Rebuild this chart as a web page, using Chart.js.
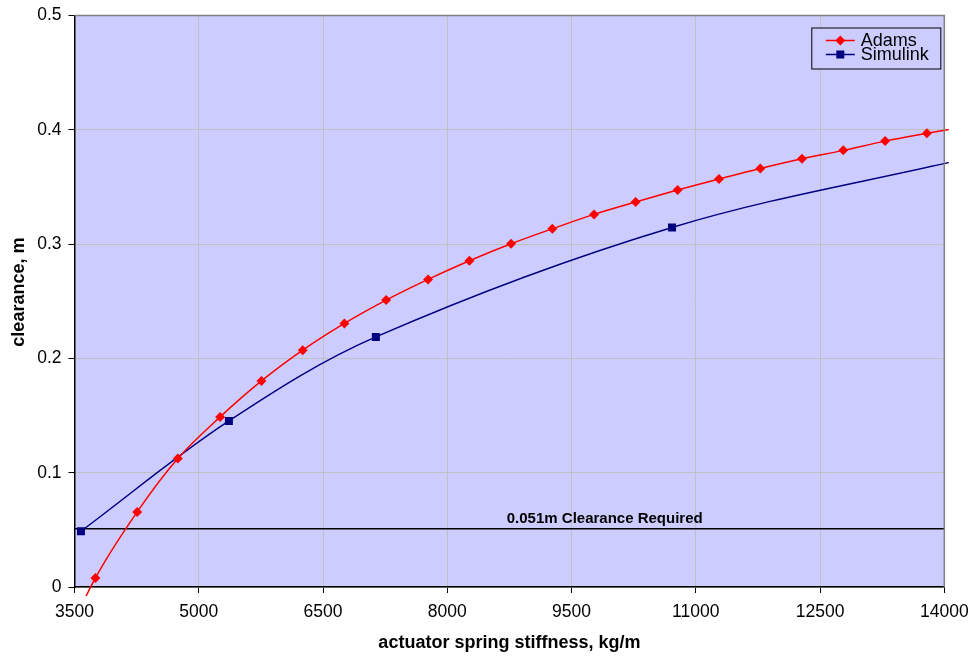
<!DOCTYPE html>
<html>
<head>
<meta charset="utf-8">
<script src="https://cdn.jsdelivr.net/npm/chart.js@4/dist/chart.umd.min.js"></script>
<style>
  html, body { margin: 0; padding: 0; background: #ffffff; }
  #wrap { width: 974px; height: 656px; }
</style>
</head>
<body>
<div id="wrap"><canvas id="c" width="974" height="656"></canvas></div>
<script>
// ---- data ----
const adamsX = [3250, 3753, 4257, 4747, 5258, 5757, 6255, 6758, 7262, 7768, 8267, 8770, 9268, 9772, 10274, 10781, 11280, 11779, 12282, 12780, 13286, 13790, 14290];
const adamsY = [-0.068, 0.0079, 0.0657, 0.1124, 0.1488, 0.1803, 0.2072, 0.2306, 0.2510, 0.2691, 0.2854, 0.3003, 0.3134, 0.3260, 0.3368, 0.3473, 0.3569, 0.3662, 0.3747, 0.3820, 0.3901, 0.3969, 0.4033];
const simulinkX = [3578, 5364, 7138, 10713, 14285];
const simulinkY = [0.0488, 0.1453, 0.2188, 0.3146, 0.3752];
const requiredX = [3500, 14000];
const requiredY = [0.051, 0.051];
const requiredLabel = '0.051m Clearance Required';
const seriesNames = ['Adams', 'Simulink'];
const xTitle = 'actuator spring stiffness, kg/m';
const yTitle = 'clearance, m';

const FONT = '"Liberation Sans", Arial, Helvetica, sans-serif';
const toPts = (xs, ys) => xs.map((x, i) => ({ x: x, y: ys[i] }));

const plotBg = {
  id: 'plotBg',
  beforeDraw(chart) {
    const { ctx, chartArea: a } = chart;
    ctx.save();
    ctx.fillStyle = '#ccccff';
    ctx.fillRect(a.left, a.top, a.right - a.left, a.bottom - a.top);
    ctx.restore();
  },
  afterDraw(chart) {
    const { ctx, chartArea: a } = chart;
    ctx.save();
    // top & right plot border (grey)
    ctx.strokeStyle = '#808080';
    ctx.lineWidth = 1.5;
    ctx.beginPath();
    ctx.moveTo(a.left, a.top);
    ctx.lineTo(a.right, a.top);
    ctx.lineTo(a.right, a.bottom);
    ctx.stroke();

    // y-axis title
    ctx.fillStyle = '#000';
    ctx.font = 'bold 18px ' + FONT;
    ctx.textAlign = 'center';
    ctx.textBaseline = 'middle';
    ctx.save();
    ctx.translate(19, a.top + (a.bottom - a.top) * 0.484);
    ctx.rotate(-Math.PI / 2);
    ctx.fillText(yTitle, 0, 0);
    ctx.restore();

    // requirement label
    ctx.font = 'bold 15px ' + FONT;
    const yPix = chart.scales.y.getPixelForValue(requiredY[0]);
    ctx.fillText(requiredLabel, a.left + (a.right - a.left) * 0.6096, yPix - 9.5);

    // legend
    const bx = a.right - 132.5, by = a.top + 12.5, bw = 129, bh = 41;
    ctx.fillStyle = '#ccccff';
    ctx.fillRect(bx, by, bw, bh);
    ctx.strokeStyle = '#000';
    ctx.lineWidth = 1;
    ctx.strokeRect(bx, by, bw, bh);
    const rows = [
      { label: seriesNames[0], color: '#ff0000', shape: 'diamond', y: by + 12.5 },
      { label: seriesNames[1], color: '#000080', shape: 'square', y: by + 26.5 }
    ];
    rows.forEach(r => {
      ctx.strokeStyle = r.color;
      ctx.lineWidth = 1.5;
      ctx.beginPath();
      ctx.moveTo(bx + 14, r.y);
      ctx.lineTo(bx + 43, r.y);
      ctx.stroke();
      ctx.fillStyle = r.color;
      const cx = bx + 28.5;
      ctx.beginPath();
      if (r.shape === 'diamond') {
        ctx.moveTo(cx, r.y - 5); ctx.lineTo(cx + 5, r.y); ctx.lineTo(cx, r.y + 5); ctx.lineTo(cx - 5, r.y);
        ctx.closePath();
      } else {
        ctx.rect(cx - 4, r.y - 4, 8, 8);
      }
      ctx.fill();
      ctx.fillStyle = '#000';
      ctx.font = '18px ' + FONT;
      ctx.textAlign = 'left';
      ctx.textBaseline = 'middle';
      ctx.fillText(r.label, bx + 49, r.y + 0.5);
    });
    ctx.restore();
  }
};

new Chart(document.getElementById('c'), {
  type: 'line',
  data: {
    datasets: [
      {
        label: seriesNames[0],
        data: toPts(adamsX, adamsY),
        borderColor: '#ff0000',
        backgroundColor: '#ff0000',
        borderWidth: 1.5,
        pointStyle: 'rectRot',
        pointRadius: 5,
        pointBorderWidth: 0,
        tension: 0.35,
        clip: { left: 8, top: 0, right: 4.5, bottom: 9 }
      },
      {
        label: seriesNames[1],
        data: toPts(simulinkX, simulinkY),
        borderColor: '#000080',
        backgroundColor: '#000080',
        borderWidth: 1.5,
        pointStyle: 'rect',
        pointRadius: 5.66,
        pointBorderWidth: 0,
        tension: 0.35,
        clip: { left: 8, top: 0, right: 4.5, bottom: 9 }
      },
      {
        label: 'required',
        data: toPts(requiredX, requiredY),
        borderColor: '#000000',
        borderWidth: 1.5,
        pointRadius: 0,
        tension: 0
      }
    ]
  },
  options: {
    responsive: false,
    animation: false,
    devicePixelRatio: 1,
    layout: { padding: { top: 15.5, right: 29.7, left: 0, bottom: 0 } },
    plugins: {
      legend: { display: false },
      tooltip: { enabled: false },
      title: { display: false }
    },
    scales: {
      x: {
        type: 'linear',
        min: 3500,
        max: 14000,
        afterFit(scale) { scale.height = 69; scale.paddingLeft = 0; scale.paddingRight = 0; },
        ticks: {
          stepSize: 1500,
          color: '#000',
          font: { family: FONT, size: 17.5 },
          padding: 9,
          maxRotation: 0,
          callback: v => String(v)
        },
        grid: { color: '#c0c0c0', lineWidth: 1, tickLength: 6, tickColor: '#000', tickWidth: 1 },
        border: { display: true, color: '#000', width: 1.5 },
        title: {
          display: true,
          text: xTitle,
          color: '#000',
          font: { family: FONT, size: 18, weight: 'bold' },
          padding: { top: 0, bottom: 2 }
        }
      },
      y: {
        type: 'linear',
        min: 0,
        max: 0.5,
        afterFit(scale) { scale.width = 74.5; scale.paddingTop = 0; scale.paddingBottom = 0; },
        ticks: {
          stepSize: 0.1,
          color: '#000',
          font: { family: FONT, size: 17.5 },
          padding: 7,
          callback: v => (v === 0 ? '0' : Number(v).toFixed(1))
        },
        grid: { color: '#c0c0c0', lineWidth: 1, tickLength: 6, tickColor: '#000', tickWidth: 1 },
        border: { display: true, color: '#000', width: 1.5 },
        title: { display: false }
      }
    }
  },
  plugins: [plotBg]
});
</script>
</body>
</html>
